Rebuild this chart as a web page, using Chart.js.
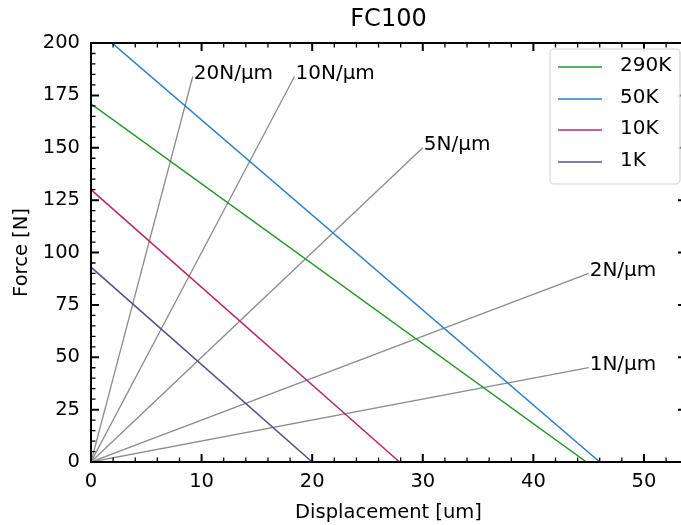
<!DOCTYPE html>
<html>
<head>
<meta charset="utf-8">
<script src="https://cdn.jsdelivr.net/npm/chart.js@4"></script>
<style>
  html, body { margin: 0; padding: 0; background: #fff; overflow: hidden; }
  #wrap { width: 681px; height: 525px; overflow: hidden; }
</style>
</head>
<body>
<div id="wrap"><canvas id="fc" width="690" height="525"></canvas></div>
<script>
// temperature curves: force at zero displacement, displacement at zero force
var seriesNames = ['290K', '50K', '10K', '1K'];
var forceAtZero = [171, 208.6, 130, 93];
var dispAtZero = [44.8, 46.0, 27.9, 20.0];
var seriesColors = ['#279627', '#2a82c4', '#b8286b', '#5e4b8b'];

// stiffness reference lines, from the origin to the labelled end point
var stiffNames = ['20N/\u00b5m', '10N/\u00b5m', '5N/\u00b5m', '2N/\u00b5m', '1N/\u00b5m'];
var stiffEndX = [9.2, 18.4, 30, 45, 45];
var stiffEndY = [184, 184, 150, 90, 45];

var xTicks = [0, 10, 20, 30, 40, 50];
var yTicks = [0, 25, 50, 75, 100, 125, 150, 175, 200];

var datasets = [];
for (var i = 0; i < seriesNames.length; i++) {
  datasets.push({
    label: seriesNames[i],
    data: [{x: 0, y: forceAtZero[i]}, {x: dispAtZero[i], y: 0}],
    borderColor: seriesColors[i],
    borderWidth: 1.5,
    pointRadius: 0,
    fill: false
  });
}
for (var j = 0; j < stiffNames.length; j++) {
  datasets.push({
    label: stiffNames[j],
    stiff: true,
    data: [{x: 0, y: 0}, {x: stiffEndX[j], y: stiffEndY[j]}],
    borderColor: '#8c8c8c',
    borderWidth: 1.3,
    pointRadius: 0,
    fill: false
  });
}

var font = 'DejaVu Sans';

var decor = {
  id: 'decor',
  afterDatasetsDraw: function(chart) {
    var ctx = chart.ctx, a = chart.chartArea;
    var xs = chart.scales.x, ys = chart.scales.y;
    ctx.save();

    // stiffness labels
    ctx.fillStyle = '#000';
    ctx.font = '20px "' + font + '"';
    ctx.textAlign = 'left';
    ctx.textBaseline = 'middle';
    chart.data.datasets.forEach(function(ds) {
      if (!ds.stiff) return;
      var p = ds.data[1];
      ctx.fillText(ds.label, xs.getPixelForValue(p.x) + 1, ys.getPixelForValue(p.y) - 3);
    });

    // frame
    ctx.strokeStyle = '#000';
    ctx.lineWidth = 2;
    ctx.strokeRect(a.left, a.top, a.right - a.left, a.bottom - a.top);

    // inward ticks on all sides
    ctx.lineWidth = 1.3;
    ctx.beginPath();
    for (var v = 0; v <= xs.max; v += 2) {
      if (v % 10 === 0) continue;
      var px = xs.getPixelForValue(v);
      ctx.moveTo(px, a.bottom); ctx.lineTo(px, a.bottom - 4.5);
      ctx.moveTo(px, a.top); ctx.lineTo(px, a.top + 4.5);
    }
    for (var w = 0; w <= ys.max; w += 5) {
      if (w % 25 === 0) continue;
      var py = ys.getPixelForValue(w);
      ctx.moveTo(a.left, py); ctx.lineTo(a.left + 4.5, py);
      ctx.moveTo(a.right, py); ctx.lineTo(a.right - 4.5, py);
    }
    ctx.stroke();
    ctx.lineWidth = 2;
    ctx.beginPath();
    xTicks.forEach(function(v) {
      var px = xs.getPixelForValue(v);
      ctx.moveTo(px, a.bottom); ctx.lineTo(px, a.bottom - 8);
      ctx.moveTo(px, a.top); ctx.lineTo(px, a.top + 8);
    });
    yTicks.forEach(function(w) {
      var py = ys.getPixelForValue(w);
      ctx.moveTo(a.left, py); ctx.lineTo(a.left + 8, py);
      ctx.moveTo(a.right, py); ctx.lineTo(a.right - 8, py);
    });
    ctx.stroke();

    // title
    ctx.fillStyle = '#000';
    ctx.textAlign = 'center';
    ctx.textBaseline = 'middle';
    ctx.font = '24px "' + font + '"';
    ctx.fillText('FC100', (a.left + a.right) / 2, 20);

    // legend
    var lx = 550, ly = 49, lw = 130, lh = 135, r = 4;
    ctx.beginPath();
    ctx.moveTo(lx + r, ly);
    ctx.lineTo(lx + lw - r, ly);
    ctx.arcTo(lx + lw, ly, lx + lw, ly + r, r);
    ctx.lineTo(lx + lw, ly + lh - r);
    ctx.arcTo(lx + lw, ly + lh, lx + lw - r, ly + lh, r);
    ctx.lineTo(lx + r, ly + lh);
    ctx.arcTo(lx, ly + lh, lx, ly + lh - r, r);
    ctx.lineTo(lx, ly + r);
    ctx.arcTo(lx, ly, lx + r, ly, r);
    ctx.closePath();
    ctx.fillStyle = 'rgba(255,255,255,0.85)';
    ctx.fill();
    ctx.strokeStyle = '#d4d4d4';
    ctx.lineWidth = 1.2;
    ctx.stroke();

    ctx.font = '20px "' + font + '"';
    ctx.textAlign = 'left';
    var rows = [67, 99, 130, 162];
    for (var k = 0; k < seriesNames.length; k++) {
      var ds = chart.data.datasets[k];
      ctx.strokeStyle = ds.borderColor;
      ctx.lineWidth = 1.5;
      ctx.beginPath();
      ctx.moveTo(558, rows[k]); ctx.lineTo(602, rows[k]);
      ctx.stroke();
      ctx.fillStyle = '#000';
      ctx.fillText(ds.label, 620, rows[k] - 1);
    }
    ctx.restore();
  }
};

new Chart(document.getElementById('fc'), {
  type: 'line',
  data: { datasets: datasets },
  plugins: [decor],
  options: {
    responsive: false,
    animation: false,
    layout: { padding: { top: 43, right: 4, left: 0, bottom: 0 } },
    plugins: { legend: { display: false }, tooltip: { enabled: false }, title: { display: false } },
    scales: {
      x: {
        type: 'linear',
        min: 0,
        max: 53.8,
        afterFit: function(s) { s.height = 63; },
        afterBuildTicks: function(s) { s.ticks = xTicks.map(function(v) { return {value: v}; }); },
        grid: { display: false, drawTicks: false },
        border: { display: false },
        ticks: { color: '#000', padding: 8, maxRotation: 0, font: { family: font, size: 19.5 } },
        title: { display: true, text: 'Displacement [um]', color: '#000', padding: { top: 0, bottom: 0 }, font: { family: font, size: 19.5 } }
      },
      y: {
        type: 'linear',
        min: 0,
        max: 200,
        afterFit: function(s) { s.width = 91; },
        afterBuildTicks: function(s) { s.ticks = yTicks.map(function(v) { return {value: v}; }); },
        grid: { display: false, drawTicks: false },
        border: { display: false },
        ticks: { color: '#000', padding: 11, font: { family: font, size: 19.5 } },
        title: { display: true, text: 'Force [N]', color: '#000', padding: { top: 10, bottom: 0 }, font: { family: font, size: 19.5 } }
      }
    }
  }
});
</script>
</body>
</html>
